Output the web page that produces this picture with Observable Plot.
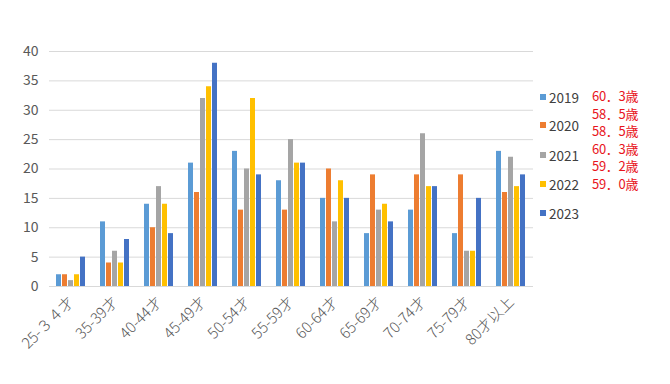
<!DOCTYPE html>
<html>
<head>
<meta charset="utf-8">
<script src="https://cdn.jsdelivr.net/npm/d3@7"></script>
<script src="https://cdn.jsdelivr.net/npm/@observablehq/plot@0.6"></script>
<style>
  html, body { margin: 0; padding: 0; background: #fff; }
  #wrap { position: relative; width: 670px; height: 384px; font-family: "Noto Sans CJK JP", "Noto Sans", sans-serif; }
  .leg { position: absolute; left: 540px; font-size: 13.5px; color: #404040; display: flex; align-items: center; }
  .leg span.sw { display: inline-block; width: 6px; height: 6px; margin-right: 3px; }
  .ages { position: absolute; left: 592px; top: 87px; font-size: 13px; line-height: 17.5px; color: #e8141c; letter-spacing: -0.3px; }
</style>
</head>
<body>
<div id="wrap"></div>
<script>
const categories = ["25-３４才", "35-39才", "40-44才", "45-49才", "50-54才", "55-59才", "60-64才", "65-69才", "70-74才", "75-79才", "80才以上"];
const years = ["2019", "2020", "2021", "2022", "2023"];
const colors = ["#5B9BD5", "#ED7D31", "#A5A5A5", "#FFC000", "#4472C4"];
const v2019 = [2, 11, 14, 21, 23, 18, 15, 9, 13, 9, 23];
const v2020 = [2, 4, 10, 16, 13, 13, 20, 19, 19, 19, 16];
const v2021 = [1, 6, 17, 32, 20, 25, 11, 13, 26, 6, 22];
const v2022 = [2, 4, 14, 34, 32, 21, 18, 14, 17, 6, 17];
const v2023 = [5, 8, 9, 38, 19, 21, 15, 11, 17, 15, 19];
const yTicks = [0, 5, 10, 15, 20, 25, 30, 35, 40];
const ageNotes = ["60．3歳", "58．5歳", "58．5歳", "60．3歳", "59．2歳", "59．0歳"];

const series = [v2019, v2020, v2021, v2022, v2023];
const table = [];
categories.forEach((c, i) => {
  years.forEach((y, j) => table.push({cat: c, year: y, value: series[j][i]}));
});

const chart = Plot.plot({
  width: 670,
  height: 384,
  marginTop: 51,
  marginBottom: 98,
  marginLeft: 48,
  marginRight: 137,
  style: {fontFamily: '"Noto Sans CJK JP", "Noto Sans", sans-serif', fontSize: "14px", color: "#595959", background: "white", overflow: "visible"},
  facet: {data: table, x: "cat"},
  fx: {domain: categories, padding: 0, label: null, tickRotate: -45, tickSize: 0, tickPadding: 13},
  x: {domain: years, axis: null, paddingInner: 0.1, paddingOuter: 0.75},
  y: {domain: [0, 40], ticks: 8, tickSize: 0, tickPadding: 11, label: null},
  color: {domain: years, range: colors},
  marks: [
    Plot.ruleY(yTicks, {stroke: "#d9d9d9", strokeWidth: 1}),
    Plot.barY(table, {x: "year", y: "value", fill: "year"})
  ]
});

const wrap = document.getElementById("wrap");
wrap.appendChild(chart);

// enlarge the rotated category labels
chart.querySelectorAll('g[aria-label^="fx-axis"] text').forEach(t => {
  t.style.fontSize = "15px";
  t.style.fontWeight = "300";
});

const legendTops = [97, 125, 155, 184, 213];
years.forEach((y, i) => {
  const d = document.createElement("div");
  d.className = "leg";
  d.style.top = (legendTops[i] - 10) + "px";
  d.innerHTML = `<span class="sw" style="background:${colors[i]}"></span><span>${y}</span>`;
  wrap.appendChild(d);
});
const ages = document.createElement("div");
ages.className = "ages";
ages.innerHTML = ageNotes.join("<br>");
wrap.appendChild(ages);
</script>
</body>
</html>
